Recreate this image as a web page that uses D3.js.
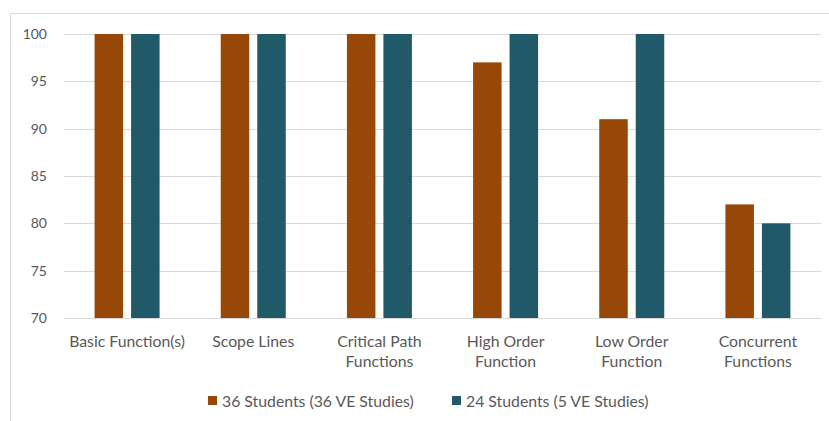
<!DOCTYPE html>
<html>
<head>
<meta charset="utf-8">
<script src="https://cdn.jsdelivr.net/npm/d3@7"></script>
<style>
  html, body { margin: 0; padding: 0; background: #fff; }
  svg { display: block; font-family: Lato, "Open Sans", sans-serif; }
</style>
</head>
<body>
<svg id="chart" width="829" height="421"></svg>
<script>
/* ── Data ─────────────────────────────────────────────── */
const categories = [
  ["Basic Function(s)"],
  ["Scope Lines"],
  ["Critical Path", "Functions"],
  ["High Order", "Function"],
  ["Low Order", "Function"],
  ["Concurrent", "Functions"],
];
const series = ["36 Students (36 VE Studies)", "24 Students (5 VE Studies)"];
const values36 = [100, 100, 100, 97, 91, 82];
const values24 = [100, 100, 100, 100, 100, 80];
const yTicks = [70, 75, 80, 85, 90, 95, 100];
const colors = ["#974706", "#215968"];

/* ── Layout ───────────────────────────────────────────── */
const svg = d3.select("#chart");
const plot = { left: 64, right: 821, top: 34, bottom: 318 };
const textSize = 15.8;

// chart frame (only top/left edges visible in the crop)
svg.append("path")
  .attr("d", "M10.5,421 V13.5 H829")
  .attr("fill", "none")
  .attr("stroke", "#d9d9d9");

const x = d3.scaleBand()
  .domain(d3.range(categories.length))
  .range([plot.left, plot.right]);
const y = d3.scaleLinear().domain([70, 100]).range([plot.bottom, plot.top]);

const barW = 28.5, gap = 8;

// gridlines
svg.append("g").selectAll("line")
  .data(yTicks)
  .join("line")
  .attr("x1", plot.left).attr("x2", plot.right)
  .attr("y1", d => Math.round(y(d)) + 0.5).attr("y2", d => Math.round(y(d)) + 0.5)
  .attr("stroke", "#d9d9d9");

// y labels
svg.append("g").selectAll("text")
  .data(yTicks)
  .join("text")
  .attr("x", 47).attr("y", d => y(d))
  .attr("dy", "0.35em")
  .attr("text-anchor", "end")
  .attr("font-size", 14)
  .attr("fill", "#595959")
  .text(d => d);

// bars
const groups = [values36, values24];
groups.forEach((vals, si) => {
  svg.append("g").selectAll("rect")
    .data(vals)
    .join("rect")
    .attr("x", (d, i) => {
      const c = x(i) + x.bandwidth() / 2;
      return si === 0 ? c - gap / 2 - barW : c + gap / 2;
    })
    .attr("width", barW)
    .attr("y", d => y(d))
    .attr("height", d => y(70) - y(d))
    .attr("fill", colors[si]);
});

// x labels
const xl = svg.append("g").selectAll("text")
  .data(categories)
  .join("text")
  .attr("x", (d, i) => x(i) + x.bandwidth() / 2)
  .attr("y", 347)
  .attr("text-anchor", "middle")
  .attr("font-size", textSize)
  .attr("fill", "#595959");
xl.selectAll("tspan")
  .data(d => d)
  .join("tspan")
  .attr("x", function () { return d3.select(this.parentNode).attr("x"); })
  .attr("dy", (d, i) => i === 0 ? 0 : 20)
  .text(d => d);

// legend
const legendX = [208, 452];
const lg = svg.append("g").selectAll("g")
  .data(series)
  .join("g")
  .attr("transform", (d, i) => `translate(${legendX[i]},401)`);
lg.append("rect")
  .attr("x", 0).attr("y", -5)
  .attr("width", 9).attr("height", 9)
  .attr("fill", (d, i) => colors[i]);
lg.append("text")
  .attr("x", 14).attr("y", 0)
  .attr("dy", "0.35em")
  .attr("font-size", textSize)
  .attr("fill", "#595959")
  .text(d => d);
</script>
</body>
</html>
